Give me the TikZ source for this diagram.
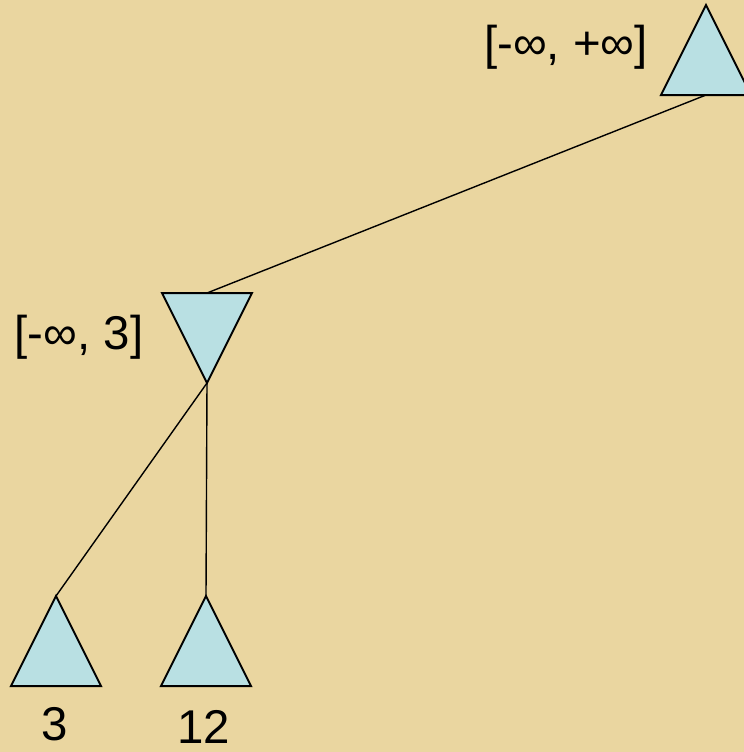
\documentclass[tikz,border=0pt]{standalone}
\usepackage{fontspec}
\setmainfont{Liberation Sans}
\usepackage{xcolor}
\usetikzlibrary{positioning,shapes.geometric}
\definecolor{parchment}{HTML}{EAD6A0}
\definecolor{nodeblue}{HTML}{B9E0E3}
\tikzset{
  tri/.style={isosceles triangle,isosceles triangle stretches,draw=black,line width=1pt,
              fill=nodeblue,minimum width=45pt,minimum height=45pt,inner sep=0pt,outer sep=0pt},
  maxtri/.style={tri,shape border rotate=90},
  mintri/.style={tri,shape border rotate=270},
  edge/.style={black,line width=0.7pt},
  val/.style={font=\fontsize{23.7}{28}\selectfont,inner sep=0pt},
}

\begin{document}
\begin{tikzpicture}[x=0.5pt,y=-0.5pt]

\fill[parchment] (0,0) rectangle (744,752);
\clip (0,0) rectangle (744,752);

\node[maxtri, anchor=apex] (root) at (706,5) {};
\node[mintri, anchor=apex] (minnode) at (207,383) {};
\node[maxtri, anchor=apex] (leafa) at (56,596) {};
\node[maxtri, anchor=apex] (leafb) at (206,596) {};

\draw[edge] (root.lower side) -- (minnode.lower side);
\draw[edge] (minnode.apex) -- (leafa.apex);
\draw[edge] (minnode.apex) -- (leafb.apex);

\node[val] (rootval) at (566,47) {[-∞, +∞]};
\node[val] (minval) at (79,337) {[-∞, 3]};
\node[val] (leafaval) at (55,724) {3};
\node[val] (leafbval) at (204,727) {12};

\end{tikzpicture}
\end{document}
